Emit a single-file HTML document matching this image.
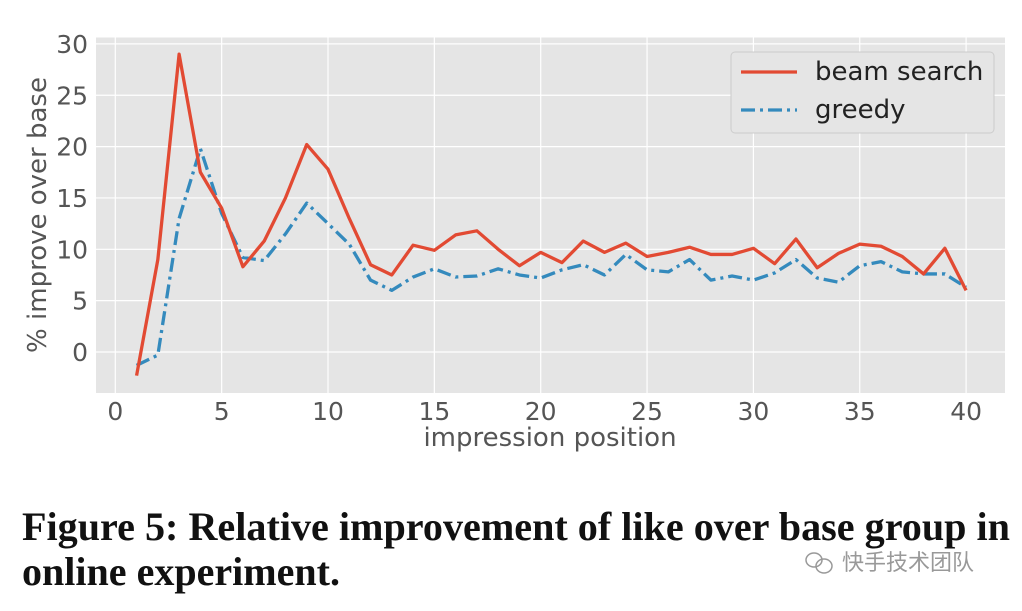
<!DOCTYPE html>
<html><head><meta charset="utf-8"><style>
body{margin:0;background:#fff;width:1022px;height:606px;overflow:hidden}
.sans{font-family:"DejaVu Sans","Liberation Sans",sans-serif}
</style></head><body>
<svg id="chart" width="1022" height="606" xmlns="http://www.w3.org/2000/svg">
<rect x="96" y="37.5" width="909" height="355.5" fill="#e5e5e5"/>
<g id="grid"></g><g id="ticks" class="sans"></g><g id="series"></g>
<text class="sans" x="550" y="446" font-size="26" fill="#555" text-anchor="middle">impression position</text>
<text class="sans" transform="translate(46,215) rotate(-90)" font-size="26" fill="#555" text-anchor="middle">% improve over base</text>
<g class="sans">
<rect x="731" y="52" width="263" height="81" rx="4" fill="#e5e5e5" stroke="#ccc" stroke-width="1"/>
<g>
<line x1="741" y1="72" x2="797" y2="72" stroke="#e24a33" stroke-width="3.3"/>
<text x="815" y="80" font-size="26" fill="#222">beam search</text></g>
<g>
<line x1="741" y1="110" x2="797" y2="110" stroke="#348abd" stroke-width="3.3" stroke-dasharray="14,5,3,5"/>
<text x="815" y="118" font-size="26" fill="#222">greedy</text></g>
</g>
<text style="font-family:'Liberation Serif',serif;font-weight:bold" font-size="40" fill="#111">
<tspan x="22" y="540" textLength="988" lengthAdjust="spacingAndGlyphs">Figure 5: Relative improvement of like over base group in</tspan>
<tspan x="22" y="585" textLength="318" lengthAdjust="spacingAndGlyphs">online experiment.</tspan></text>
<g fill="none" stroke="#999" stroke-width="1.5">
<ellipse cx="814" cy="560" rx="8" ry="7"/><ellipse cx="824" cy="566" rx="8" ry="7"/>
<text x="842" y="570" style="font-family:'Liberation Sans','Noto Sans CJK SC',sans-serif" font-size="22" fill="#999" stroke="none">快手技术团队</text></g>
</svg>
<script>
const positions=[1,2,3,4,5,6,7,8,9,10,11,12,13,14,15,16,17,18,19,20,21,22,23,24,25,26,27,28,29,30,31,32,33,34,35,36,37,38,39,40];
const beamSearch=[-2.3,9,29,17.5,14,8.3,10.8,15,20.2,17.8,13,8.5,7.5,10.4,9.9,11.4,11.8,10,8.4,9.7,8.7,10.8,9.7,10.6,9.3,9.7,10.2,9.5,9.5,10.1,8.6,11,8.2,9.6,10.5,10.3,9.3,7.6,10.1,6];
const greedy=[-1.3,-0.3,13,19.8,13.5,9.2,8.9,11.5,14.5,12.5,10.5,7,6,7.3,8.1,7.3,7.4,8.1,7.5,7.2,8,8.5,7.5,9.5,8,7.8,9,7,7.4,7,7.7,9,7.2,6.8,8.4,8.8,7.8,7.6,7.6,6.3];
const xTicks=[0,5,10,15,20,25,30,35,40];
const yTicks=[0,5,10,15,20,25,30];
const NS="http://www.w3.org/2000/svg";
const X=v=>115.3+v*21.27, Y=v=>352-v*10.27;
function mk(t,a,p){const e=document.createElementNS(NS,t);for(const k in a)e.setAttribute(k,a[k]);p.appendChild(e);return e;}
const grid=document.getElementById('grid'),ticks=document.getElementById('ticks'),ser=document.getElementById('series');
xTicks.forEach(v=>{
 const l=mk('line',{x1:X(v),x2:X(v),y1:37.5,y2:393,stroke:'#fff','stroke-width':1.2},grid);
 
 
 const t=mk('text',{x:X(v),y:420,'font-size':25,fill:'#555','text-anchor':'middle'},ticks);
 t.textContent=v;
 
 
});
yTicks.forEach(v=>{
 const l=mk('line',{x1:96,x2:1005,y1:Y(v),y2:Y(v),stroke:'#fff','stroke-width':1.2},grid);
 
 
 const t=mk('text',{x:88,y:Y(v)+9,'font-size':25,fill:'#555','text-anchor':'end'},ticks);
 t.textContent=v;
 
 
});
function line(vals,color,dash,name){
 const p=mk('polyline',{points:vals.map((v,i)=>X(positions[i])+','+Y(v)).join(' '),fill:'none',stroke:color,'stroke-width':3.3,'stroke-linejoin':'round'},ser);
 if(dash)p.setAttribute('stroke-dasharray',dash);
 
 
}
line(greedy,'#348abd','14,5,3,5','greedy-line');
line(beamSearch,'#e24a33',null,'beam-search-line');
</script>
</body></html>
